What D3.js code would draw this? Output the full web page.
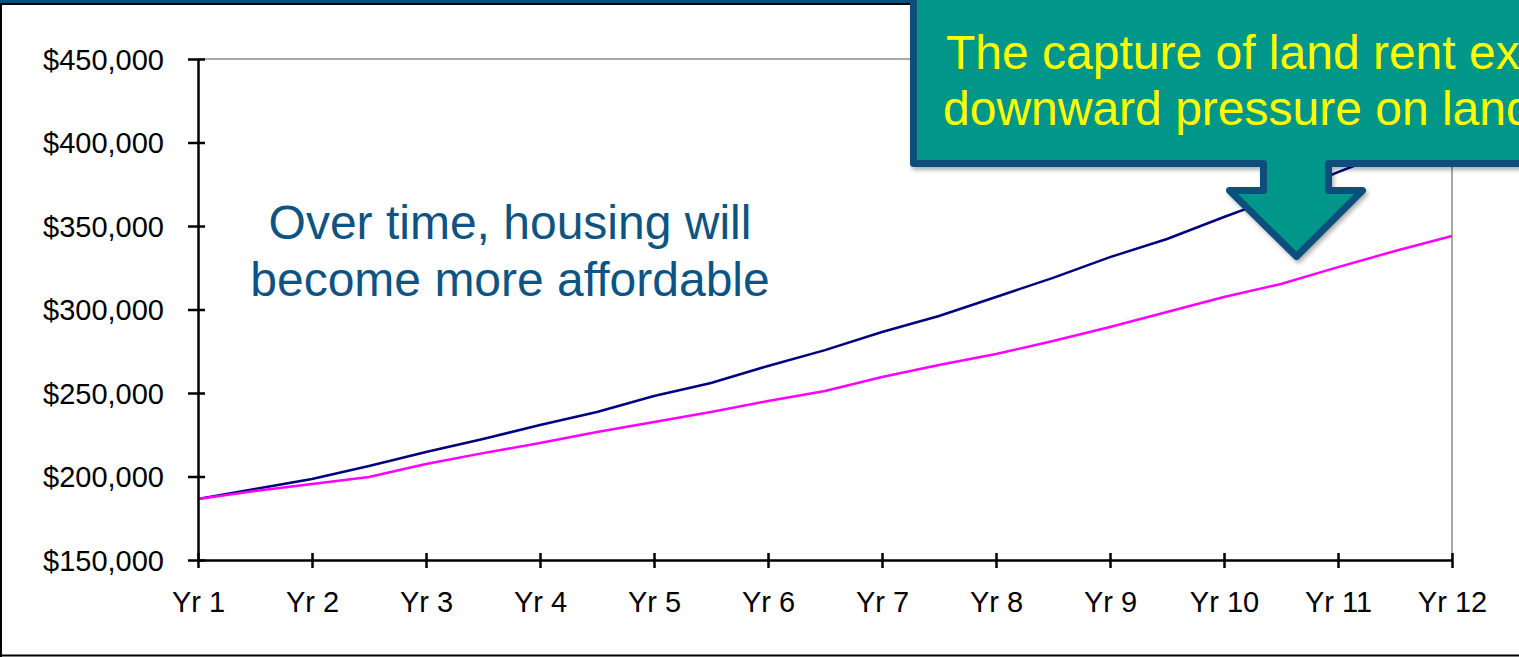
<!DOCTYPE html>
<html>
<head>
<meta charset="utf-8">
<script src="https://cdn.jsdelivr.net/npm/d3@7"></script>
<style>
    html, body { margin: 0; padding: 0; background: #fff; overflow: hidden; }
    svg { display: block; font-family: "Liberation Sans", Arial, sans-serif; }
</style>
</head>
<body>
<svg width="1519" height="657"></svg>
<script>
// periods along the x axis (data every half year)
var periods = [1, 1.5, 2, 2.5, 3, 3.5, 4, 4.5, 5, 5.5, 6, 6.5, 7, 7.5, 8, 8.5, 9, 9.5, 10, 10.5, 11, 11.5, 12];

// price path without land rent capture (navy)
var priceNoCapture = [186500, 192500, 198500, 206300, 214700, 222500, 230800, 238600, 248200, 256000, 266200, 275700,
    286500, 296100, 307500, 318900, 331400, 342200, 355400, 368000, 382300, 395500, 408700];

// price path with land rent capture (magenta)
var priceCapture = [186500, 191300, 195500, 199700, 207500, 214000, 220000, 226600, 232600, 238600, 245200, 251200,
    259600, 266800, 273400, 281100, 289500, 298500, 307500, 315300, 325400, 335000, 344000];

var yearTicks = [1, 2, 3, 4, 5, 6, 7, 8, 9, 10, 11, 12];
var yearLabels = ["Yr 1", "Yr 2", "Yr 3", "Yr 4", "Yr 5", "Yr 6", "Yr 7", "Yr 8", "Yr 9", "Yr 10", "Yr 11", "Yr 12"];
var priceTicks = [150000, 200000, 250000, 300000, 350000, 400000, 450000];

var noteLines = ["Over time, housing will", "become more affordable"];
var calloutLines = ["The capture of land rent exerts", "downward pressure on land prices"];

var svg = d3.select("svg");
var W = 1519, H = 657;

var x = d3.scaleLinear().domain([1, 12]).range([198, 1452]);
var y = d3.scaleLinear().domain([150000, 450000]).range([560, 59]);

var money = d3.format("$,");

// frame
svg.append("rect").attr("x", 0).attr("y", 0).attr("width", W).attr("height", 3).attr("fill", "#0b4f7c");
svg.append("line").attr("x1", 0).attr("x2", W).attr("y1", 4).attr("y2", 4).attr("stroke", "#000").attr("stroke-width", 2);
svg.append("line").attr("x1", 1).attr("x2", 1).attr("y1", 4).attr("y2", H).attr("stroke", "#000").attr("stroke-width", 2);
svg.append("line").attr("x1", 0).attr("x2", W).attr("y1", 655.5).attr("y2", 655.5).attr("stroke", "#000").attr("stroke-width", 2);

// plot area border (top / right)
svg.append("path")
    .attr("d", "M" + x(1) + "," + y(450000) + "H" + x(12) + "V" + y(150000))
    .attr("fill", "none")
    .attr("stroke", "#8c8c8c")
    .attr("stroke-width", 1.5);

// lines
var line = function (values) {
    return d3.line()
        .x(function (d, i) { return x(periods[i]); })
        .y(function (d) { return y(d); })(values);
};

svg.append("path")
    .attr("d", line(priceNoCapture))
    .attr("fill", "none")
    .attr("stroke", "#000080")
    .attr("stroke-width", 2.5);

svg.append("path")
    .attr("d", line(priceCapture))
    .attr("fill", "none")
    .attr("stroke", "#ff00ff")
    .attr("stroke-width", 2.5);

// y axis
var yAxis = svg.append("g")
    .attr("transform", "translate(" + x(1) + ",0)")
    .call(d3.axisLeft(y).tickValues(priceTicks).tickFormat(money).tickSizeOuter(0).tickPadding(28));
yAxis.select(".domain").attr("stroke", "#000").attr("stroke-width", 2.5);
yAxis.selectAll(".tick line").attr("x1", 7).attr("x2", -10).attr("stroke", "#000").attr("stroke-width", 2.5);
yAxis.selectAll(".tick text")
    .attr("font-size", 29)
    .attr("font-family", "Liberation Sans, Arial, sans-serif")
    .attr("fill", "#000")
    .attr("dy", "0.36em");

// x axis
var xAxis = svg.append("g")
    .attr("transform", "translate(0," + y(150000) + ")")
    .call(d3.axisBottom(x).tickValues(yearTicks)
        .tickFormat(function (d, i) { return yearLabels[i]; })
        .tickSizeOuter(0));
xAxis.select(".domain").attr("stroke", "#000").attr("stroke-width", 2.5);
xAxis.selectAll(".tick line").attr("y1", -7).attr("y2", 8).attr("stroke", "#000").attr("stroke-width", 2.5);
xAxis.selectAll(".tick text")
    .attr("font-size", 29)
    .attr("font-family", "Liberation Sans, Arial, sans-serif")
    .attr("fill", "#000")
    .attr("y", 52)
    .attr("dy", 0);

// annotation on the left
svg.append("text")
    .attr("text-anchor", "middle")
    .attr("font-size", 48)
    .attr("fill", "#0d5482")
    .selectAll("tspan")
    .data(noteLines)
    .enter().append("tspan")
    .attr("x", 510)
    .attr("y", function (d, i) { return 239 + i * 57; })
    .text(function (d) { return d; });

// callout with down arrow
var defs = svg.append("defs");
var shadow = defs.append("filter").attr("id", "shadow").attr("x", "-10%").attr("y", "-10%").attr("width", "130%").attr("height", "140%");
shadow.append("feDropShadow").attr("dx", 2).attr("dy", 3).attr("stdDeviation", 2).attr("flood-color", "#000").attr("flood-opacity", 0.3);

svg.append("path")
    .attr("d", "M913.5,-20 V163.5 H1263.5 V190.5 H1229.5 L1296.5,256.5 L1362.5,190.5 H1328.5 V163.5 H1560 V-20 Z")
    .attr("fill", "#00968a")
    .attr("stroke", "#0b4f7c")
    .attr("stroke-width", 7)
    .attr("stroke-linejoin", "round")
    .attr("filter", "url(#shadow)");

svg.append("text")
    .attr("font-size", 48)
    .attr("fill", "#ffff00")
    .selectAll("tspan")
    .data(calloutLines)
    .enter().append("tspan")
    .attr("x", function (d, i) { return i === 0 ? 946 : 943; })
    .attr("y", function (d, i) { return 69 + i * 56; })
    .text(function (d) { return d; });
</script>
</body>
</html>
